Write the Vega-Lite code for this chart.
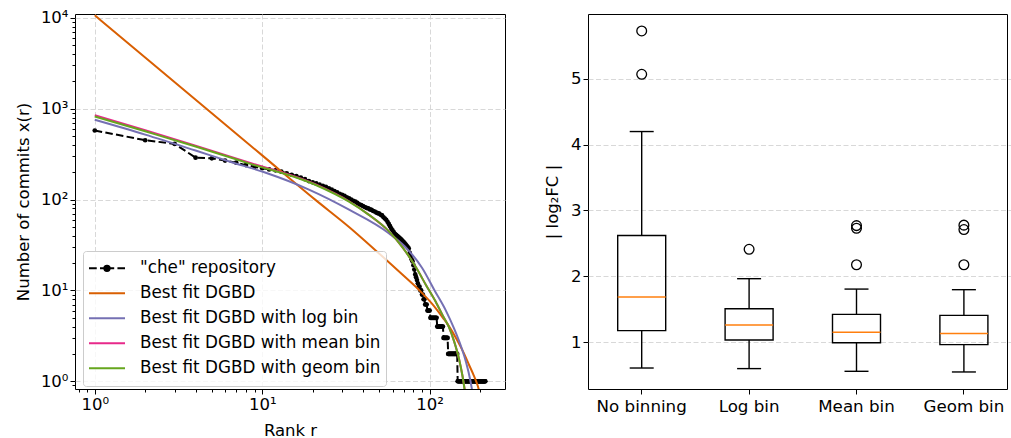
{
  "$schema": "https://vega.github.io/schema/vega-lite/v6.json",
  "padding": {"left": 14, "top": 9, "right": 0, "bottom": 0},
  "config": {
    "font": "DejaVu Sans",
    "view": {"stroke": "#000000", "strokeWidth": 1},
    "axis": {
      "domain": false, "tickColor": "#000000", "labelColor": "#000000", "titleColor": "#000000",
      "labelFontSize": 16.5, "titleFontSize": 16.5, "titleFontWeight": "normal",
      "gridColor": "#d4d4d4", "gridDash": [5, 2.5], "gridWidth": 0.9, "tickWidth": 1, "labelPadding": 2, "tickSize": 5
    },
    "legend": {
      "title": null, "orient": "none", "legendX": 8, "legendY": 237,
      "fillColor": "rgba(255,255,255,0.8)", "strokeColor": "#cccccc", "cornerRadius": 3, "padding": 5,
      "symbolType": "stroke", "symbolSize": 1296, "symbolStrokeWidth": 2,
      "labelFontSize": 16.8, "labelOffset": 14, "rowPadding": 0, "clipHeight": 24.7, "labelColor": "#000000", "labelLimit": 500
    }
  },
  "datasets": {
    "che": [
      {"r":1,"x":577},{"r":2,"x":451},{"r":3,"x":411},{"r":4,"x":290},{"r":5,"x":285},{"r":6,"x":269},{"r":7,"x":255},{"r":8,"x":240},{"r":9,"x":230},{"r":10,"x":222},
      {"r":11,"x":215},{"r":12,"x":210},{"r":13,"x":203},{"r":14,"x":195},{"r":15,"x":188},{"r":16,"x":182},{"r":17,"x":175},{"r":18,"x":168},{"r":19,"x":160},{"r":20,"x":155},
      {"r":21,"x":151},{"r":22,"x":146},{"r":23,"x":142},{"r":24,"x":138},{"r":25,"x":133},{"r":26,"x":129},{"r":27,"x":124},{"r":28,"x":120},{"r":29,"x":116},{"r":30,"x":113},
      {"r":31,"x":110},{"r":32,"x":106},{"r":33,"x":103},{"r":34,"x":100},{"r":35,"x":97},{"r":36,"x":95},{"r":37,"x":92},{"r":38,"x":89},{"r":39,"x":87},{"r":40,"x":85},
      {"r":41,"x":83},{"r":42,"x":81},{"r":43,"x":80},{"r":44,"x":78},{"r":45,"x":77},{"r":46,"x":75},{"r":47,"x":74},{"r":48,"x":72},{"r":49,"x":71},{"r":50,"x":70},
      {"r":51,"x":68},{"r":52,"x":67},{"r":53,"x":64},{"r":54,"x":62},{"r":55,"x":60},{"r":56,"x":57},{"r":57,"x":54},{"r":58,"x":51},{"r":59,"x":48},{"r":60,"x":46},
      {"r":61,"x":44},{"r":62,"x":42},{"r":63,"x":41},{"r":64,"x":40},{"r":65,"x":39},{"r":66,"x":38},{"r":67,"x":37},{"r":68,"x":36},{"r":69,"x":35},{"r":70,"x":34},
      {"r":71,"x":33},{"r":72,"x":32},{"r":73,"x":31},{"r":74,"x":30},{"r":75,"x":29},{"r":76,"x":26},{"r":77,"x":24},{"r":78,"x":22},{"r":79,"x":21},{"r":80,"x":19},
      {"r":81,"x":17},{"r":82,"x":15},{"r":83,"x":14},{"r":84,"x":13},{"r":85,"x":12},{"r":86,"x":11},{"r":87,"x":11},{"r":88,"x":10},{"r":89,"x":10},{"r":90,"x":9},
      {"r":91,"x":9},{"r":92,"x":8},{"r":93,"x":8},{"r":94,"x":7},{"r":95,"x":7},{"r":96,"x":7},{"r":97,"x":6},{"r":98,"x":6},{"r":99,"x":6},{"r":100,"x":6},
      {"r":101,"x":5},{"r":102,"x":5},{"r":103,"x":5},{"r":104,"x":5},{"r":105,"x":5},{"r":106,"x":5},{"r":107,"x":5},{"r":108,"x":5},{"r":109,"x":5},{"r":110,"x":5},
      {"r":111,"x":4},{"r":112,"x":4},{"r":113,"x":4},{"r":114,"x":4},{"r":115,"x":4},{"r":116,"x":4},{"r":117,"x":4},{"r":118,"x":4},{"r":119,"x":4},{"r":120,"x":4},
      {"r":121,"x":3},{"r":122,"x":3},{"r":123,"x":3},{"r":124,"x":3},{"r":125,"x":3},{"r":126,"x":3},{"r":127,"x":3},{"r":128,"x":3},{"r":129,"x":2},{"r":130,"x":2},
      {"r":131,"x":2},{"r":132,"x":2},{"r":133,"x":2},{"r":134,"x":2},{"r":135,"x":2},{"r":136,"x":2},{"r":137,"x":2},{"r":138,"x":2},{"r":139,"x":2},{"r":140,"x":2},
      {"r":141,"x":2},{"r":142,"x":2},{"r":143,"x":2},{"r":144,"x":2},{"r":145,"x":2},{"r":146,"x":2},{"r":147,"x":1},{"r":148,"x":1},{"r":149,"x":1},{"r":150,"x":1},
      {"r":151,"x":1},{"r":152,"x":1},{"r":153,"x":1},{"r":154,"x":1},{"r":155,"x":1},{"r":156,"x":1},{"r":157,"x":1},{"r":158,"x":1},{"r":159,"x":1},{"r":160,"x":1},
      {"r":161,"x":1},{"r":162,"x":1},{"r":163,"x":1},{"r":164,"x":1},{"r":165,"x":1},{"r":166,"x":1},{"r":167,"x":1},{"r":168,"x":1},{"r":169,"x":1},{"r":170,"x":1},
      {"r":171,"x":1},{"r":172,"x":1},{"r":173,"x":1},{"r":174,"x":1},{"r":175,"x":1},{"r":176,"x":1},{"r":177,"x":1},{"r":178,"x":1},{"r":179,"x":1},{"r":180,"x":1},
      {"r":181,"x":1},{"r":182,"x":1},{"r":183,"x":1},{"r":184,"x":1},{"r":185,"x":1},{"r":186,"x":1},{"r":187,"x":1},{"r":188,"x":1},{"r":189,"x":1},{"r":190,"x":1},
      {"r":191,"x":1},{"r":192,"x":1},{"r":193,"x":1},{"r":194,"x":1},{"r":195,"x":1},{"r":196,"x":1},{"r":197,"x":1},{"r":198,"x":1},{"r":199,"x":1},{"r":200,"x":1},
      {"r":201,"x":1},{"r":202,"x":1},{"r":203,"x":1},{"r":204,"x":1},{"r":205,"x":1},{"r":206,"x":1},{"r":207,"x":1},{"r":208,"x":1},{"r":209,"x":1},{"r":210,"x":1},
      {"r":211,"x":1},{"r":212,"x":1},{"r":213,"x":1},{"r":214,"x":1},{"r":215,"x":1}
    ],
    "fits": [
      {"s":"Best fit DGBD","r":1,"x":10700},{"s":"Best fit DGBD","r":2,"x":3670},{"s":"Best fit DGBD","r":5,"x":893},{"s":"Best fit DGBD","r":10,"x":307},
      {"s":"Best fit DGBD","r":20.7,"x":100},{"s":"Best fit DGBD","r":33,"x":50},{"s":"Best fit DGBD","r":47.6,"x":27.6},{"s":"Best fit DGBD","r":70,"x":14.5},
      {"s":"Best fit DGBD","r":87,"x":10},{"s":"Best fit DGBD","r":105,"x":6.9},{"s":"Best fit DGBD","r":120,"x":5.0},{"s":"Best fit DGBD","r":130,"x":4.07},
      {"s":"Best fit DGBD","r":145,"x":2.9},{"s":"Best fit DGBD","r":160,"x":2.04},{"s":"Best fit DGBD","r":172,"x":1.51},{"s":"Best fit DGBD","r":183,"x":1.17},
      {"s":"Best fit DGBD","r":193,"x":0.91},{"s":"Best fit DGBD","r":200,"x":0.72},
      {"s":"Best fit DGBD with log bin","r":1,"x":757},{"s":"Best fit DGBD with log bin","r":2,"x":520},{"s":"Best fit DGBD with log bin","r":4,"x":347},
      {"s":"Best fit DGBD with log bin","r":6.5,"x":260},{"s":"Best fit DGBD with log bin","r":10.3,"x":200},{"s":"Best fit DGBD with log bin","r":19,"x":129},
      {"s":"Best fit DGBD with log bin","r":33,"x":77.6},{"s":"Best fit DGBD with log bin","r":57,"x":42.7},{"s":"Best fit DGBD with log bin","r":75,"x":27.5},
      {"s":"Best fit DGBD with log bin","r":90,"x":17.8},{"s":"Best fit DGBD with log bin","r":107,"x":10},{"s":"Best fit DGBD with log bin","r":125,"x":6.0},
      {"s":"Best fit DGBD with log bin","r":140,"x":3.8},{"s":"Best fit DGBD with log bin","r":155,"x":2.34},{"s":"Best fit DGBD with log bin","r":165,"x":1.62},
      {"s":"Best fit DGBD with log bin","r":175,"x":1.02},{"s":"Best fit DGBD with log bin","r":183,"x":0.63},
      {"s":"Best fit DGBD with mean bin","r":1,"x":850},{"s":"Best fit DGBD with mean bin","r":2,"x":580},{"s":"Best fit DGBD with mean bin","r":4,"x":393},
      {"s":"Best fit DGBD with mean bin","r":8.3,"x":257},{"s":"Best fit DGBD with mean bin","r":20.9,"x":147},{"s":"Best fit DGBD with mean bin","r":33,"x":96},
      {"s":"Best fit DGBD with mean bin","r":43.4,"x":68},{"s":"Best fit DGBD with mean bin","r":57,"x":45},{"s":"Best fit DGBD with mean bin","r":68.7,"x":30},
      {"s":"Best fit DGBD with mean bin","r":82.5,"x":18.2},{"s":"Best fit DGBD with mean bin","r":95,"x":11.5},{"s":"Best fit DGBD with mean bin","r":110,"x":7.2},
      {"s":"Best fit DGBD with mean bin","r":120,"x":5.25},{"s":"Best fit DGBD with mean bin","r":130,"x":4.0},{"s":"Best fit DGBD with mean bin","r":140,"x":2.75},
      {"s":"Best fit DGBD with mean bin","r":150,"x":1.74},{"s":"Best fit DGBD with mean bin","r":157,"x":1.15},{"s":"Best fit DGBD with mean bin","r":163,"x":0.75},
      {"s":"Best fit DGBD with geom bin","r":1,"x":824},{"s":"Best fit DGBD with geom bin","r":2,"x":565},{"s":"Best fit DGBD with geom bin","r":4,"x":385},
      {"s":"Best fit DGBD with geom bin","r":8.3,"x":251},{"s":"Best fit DGBD with geom bin","r":20.9,"x":145},{"s":"Best fit DGBD with geom bin","r":33,"x":95},
      {"s":"Best fit DGBD with geom bin","r":43.4,"x":68},{"s":"Best fit DGBD with geom bin","r":57,"x":45},{"s":"Best fit DGBD with geom bin","r":68.7,"x":30},
      {"s":"Best fit DGBD with geom bin","r":82.5,"x":18.2},{"s":"Best fit DGBD with geom bin","r":95,"x":11.5},{"s":"Best fit DGBD with geom bin","r":110,"x":7.2},
      {"s":"Best fit DGBD with geom bin","r":120,"x":5.25},{"s":"Best fit DGBD with geom bin","r":130,"x":4.0},{"s":"Best fit DGBD with geom bin","r":140,"x":2.75},
      {"s":"Best fit DGBD with geom bin","r":150,"x":1.74},{"s":"Best fit DGBD with geom bin","r":157,"x":1.15},{"s":"Best fit DGBD with geom bin","r":162,"x":0.79}
    ],
    "box": [
      {"m":"No binning","lo":0.605,"q1":1.173,"med":1.683,"q3":2.62,"hi":4.2},
      {"m":"Log bin","lo":0.596,"q1":1.03,"med":1.26,"q3":1.507,"hi":1.963},
      {"m":"Mean bin","lo":0.555,"q1":0.99,"med":1.147,"q3":1.42,"hi":1.805},
      {"m":"Geom bin","lo":0.545,"q1":0.96,"med":1.13,"q3":1.405,"hi":1.796}
    ],
    "outl": [
      {"m":"No binning","v":5.73},{"m":"No binning","v":5.07},{"m":"Log bin","v":2.41},
      {"m":"Mean bin","v":2.175},{"m":"Mean bin","v":2.73},{"m":"Mean bin","v":2.77},
      {"m":"Geom bin","v":2.175},{"m":"Geom bin","v":2.71},{"m":"Geom bin","v":2.777}
    ]
  },
  "spacing": 38,
  "hconcat": [
    {
      "width": 430,
      "height": 375,
      "layer": [
        {
          "data": {"name": "che"},
          "mark": {"type": "line", "strokeWidth": 2, "strokeDash": [7.5, 3.3], "clip": true},
          "encoding": {
            "x": {
              "field": "r", "type": "quantitative",
              "scale": {"type": "log", "domain": [0.762, 281.8], "nice": false},
              "axis": {
                "title": "Rank r", "titlePadding": 10,
                "values": [0.8, 0.9, 1, 2, 3, 4, 5, 6, 7, 8, 9, 10, 20, 30, 40, 50, 60, 70, 80, 90, 100, 200],
                "labelExpr": "datum.value == 1 ? '10⁰' : datum.value == 10 ? '10¹' : datum.value == 100 ? '10²' : ''",
                "labelOverlap": false,
                "tickSize": {"condition": {"test": "datum.value == 1 || datum.value == 10 || datum.value == 100", "value": 5}, "value": 3},
                "gridOpacity": {"condition": {"test": "datum.value == 1 || datum.value == 10 || datum.value == 100", "value": 1}, "value": 0}
              }
            },
            "y": {
              "field": "x", "type": "quantitative",
              "scale": {"type": "log", "domain": [0.822, 11066], "nice": false},
              "axis": {
                "title": "Number of commits x(r)", "titlePadding": 9,
                "values": [0.9, 1, 2, 3, 4, 5, 6, 7, 8, 9, 10, 20, 30, 40, 50, 60, 70, 80, 90, 100, 200, 300, 400, 500, 600, 700, 800, 900, 1000, 2000, 3000, 4000, 5000, 6000, 7000, 8000, 9000, 10000],
                "labelExpr": "datum.value == 1 ? '10⁰' : datum.value == 10 ? '10¹' : datum.value == 100 ? '10²' : datum.value == 1000 ? '10³' : datum.value == 10000 ? '10⁴' : ''",
                "labelOverlap": false,
                "tickSize": {"condition": {"test": "datum.value == 1 || datum.value == 10 || datum.value == 100 || datum.value == 1000 || datum.value == 10000", "value": 5}, "value": 3},
                "gridOpacity": {"condition": {"test": "datum.value == 1 || datum.value == 10 || datum.value == 100 || datum.value == 1000 || datum.value == 10000", "value": 1}, "value": 0}
              }
            },
            "color": {
              "datum": "\"che\" repository", "type": "nominal",
              "scale": {
                "domain": ["\"che\" repository", "Best fit DGBD", "Best fit DGBD with log bin", "Best fit DGBD with mean bin", "Best fit DGBD with geom bin"],
                "range": ["#000000", "#d95f02", "#7570b3", "#e7298a", "#66a61e"]
              },
              "legend": {
                "title": null, "orient": "none",
                "encode": {
                  "symbols": {
                    "update": {
                      "shape": {"signal": "datum.index === 0 ? 'M-1,0H-0.57M-0.39,0H-0.14M0.14,0H0.4M0.58,0H1M-0.15,0A0.15,0.15 0 1,0 0.15,0A0.15,0.15 0 1,0 -0.15,0Z' : 'stroke'"},
                      "fill": {"signal": "datum.index === 0 ? '#000000' : 'transparent'"}
                    }
                  }
                }
              }
            }
          }
        },
        {
          "data": {"name": "che"},
          "mark": {"type": "circle", "color": "#000000", "size": 22, "opacity": 1, "clip": true},
          "encoding": {
            "x": {"field": "r", "type": "quantitative"},
            "y": {"field": "x", "type": "quantitative"}
          }
        },
        {
          "data": {"name": "fits"},
          "mark": {"type": "line", "strokeWidth": 2, "clip": true, "interpolate": "monotone"},
          "encoding": {
            "x": {"field": "r", "type": "quantitative"},
            "y": {"field": "x", "type": "quantitative"},
            "color": {
              "field": "s", "type": "nominal",
              "legend": {
                "title": null, "orient": "none",
                "encode": {
                  "symbols": {
                    "update": {
                      "shape": {"signal": "datum.index === 0 ? 'M-1,0H-0.57M-0.39,0H-0.14M0.14,0H0.4M0.58,0H1M-0.15,0A0.15,0.15 0 1,0 0.15,0A0.15,0.15 0 1,0 -0.15,0Z' : 'stroke'"},
                      "fill": {"signal": "datum.index === 0 ? '#000000' : 'transparent'"}
                    }
                  }
                }
              }
            }
          }
        }
      ]
    },
    {
      "width": 419,
      "height": 375,
      "layer": [
        {
          "data": {"name": "box"},
          "mark": {"type": "rule", "stroke": "#000000", "strokeWidth": 1.4},
          "encoding": {
            "x": {
              "field": "m", "type": "nominal", "sort": null,
              "scale": {"domain": ["No binning", "Log bin", "Mean bin", "Geom bin"], "range": [0, 429.6], "paddingInner": 0, "paddingOuter": 0},
              "axis": {"title": null, "labelAngle": 0, "labelFontSize": 16.7, "bandPosition": 0.5, "labelPadding": 4}
            },
            "y": {
              "field": "lo", "type": "quantitative",
              "scale": {"domain": [0.286, 5.987], "nice": false, "zero": false},
              "axis": {"title": "| log₂FC |", "values": [1, 2, 3, 4, 5], "format": "d", "labelFontSize": 16.5, "titlePadding": 10}
            },
            "y2": {"field": "q1"}
          }
        },
        {
          "data": {"name": "box"},
          "mark": {"type": "rule", "stroke": "#000000", "strokeWidth": 1.4},
          "encoding": {
            "x": {"field": "m", "type": "nominal", "sort": null},
            "y": {"field": "q3", "type": "quantitative"},
            "y2": {"field": "hi"}
          }
        },
        {
          "data": {"name": "box"},
          "mark": {"type": "bar", "width": 48, "fill": "transparent", "stroke": "#000000", "strokeWidth": 1.4},
          "encoding": {
            "x": {"field": "m", "type": "nominal", "sort": null},
            "y": {"field": "q1", "type": "quantitative"},
            "y2": {"field": "q3"}
          }
        },
        {
          "data": {"name": "box"},
          "mark": {"type": "tick", "orient": "horizontal", "size": 24, "thickness": 1.4, "color": "#000000", "opacity": 1},
          "encoding": {
            "x": {"field": "m", "type": "nominal", "sort": null},
            "y": {"field": "lo", "type": "quantitative"}
          }
        },
        {
          "data": {"name": "box"},
          "mark": {"type": "tick", "orient": "horizontal", "size": 24, "thickness": 1.4, "color": "#000000", "opacity": 1},
          "encoding": {
            "x": {"field": "m", "type": "nominal", "sort": null},
            "y": {"field": "hi", "type": "quantitative"}
          }
        },
        {
          "data": {"name": "box"},
          "mark": {"type": "tick", "orient": "horizontal", "size": 48, "thickness": 1.5, "color": "#ff7f0e", "opacity": 1},
          "encoding": {
            "x": {"field": "m", "type": "nominal", "sort": null},
            "y": {"field": "med", "type": "quantitative"}
          }
        },
        {
          "data": {"name": "outl"},
          "mark": {"type": "point", "shape": "circle", "size": 95, "filled": false, "stroke": "#000000", "strokeWidth": 1.3, "opacity": 1},
          "encoding": {
            "x": {"field": "m", "type": "nominal", "sort": null},
            "y": {"field": "v", "type": "quantitative"}
          }
        }
      ]
    }
  ]
}
